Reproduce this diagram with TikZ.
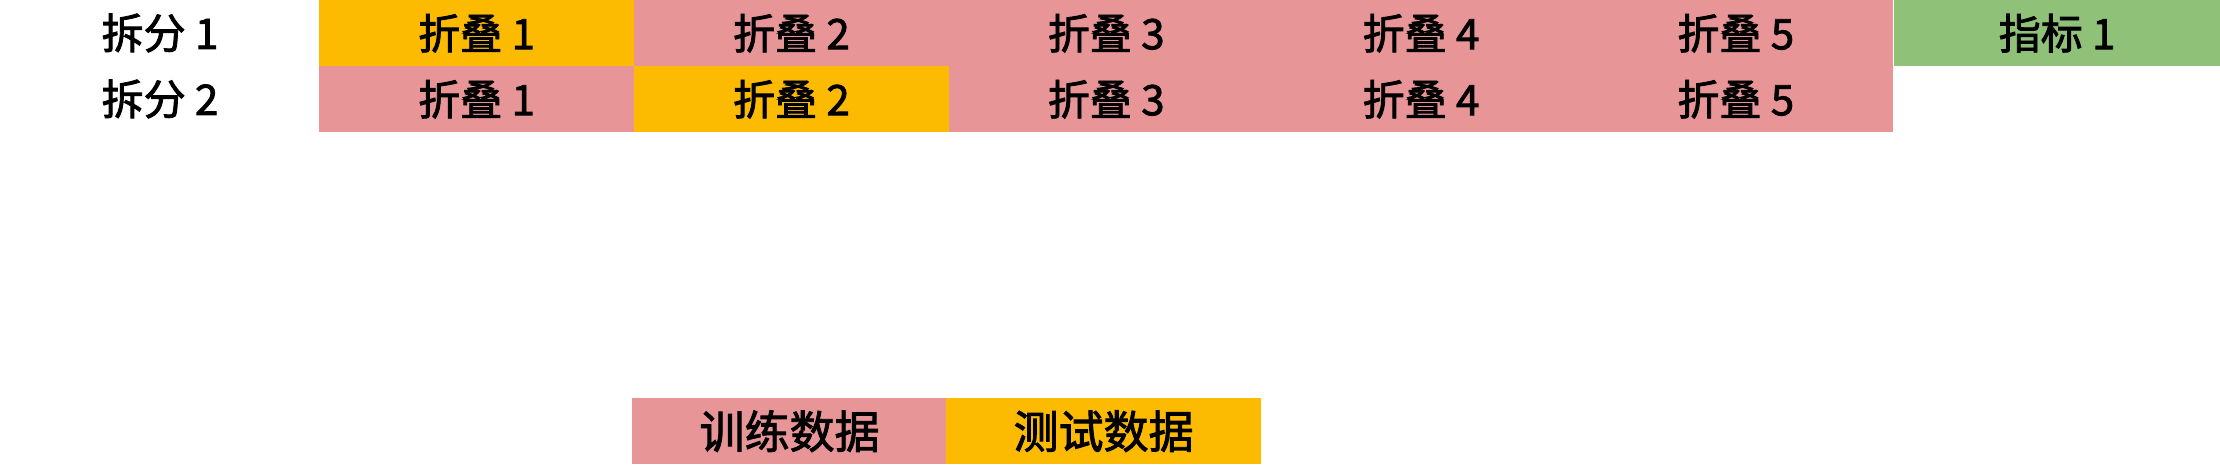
\documentclass[tikz,border=0pt]{standalone}
\usepackage{fontspec}
\setmainfont{Noto Sans CJK SC}
\newfontfamily\cellfont{Noto Sans CJK SC}[FakeBold=2]
\definecolor{trainpink}{RGB}{232,149,152}
\definecolor{testyellow}{RGB}{252,186,0}
\definecolor{metricgreen}{RGB}{144,193,120}

\begin{document}
\begin{tikzpicture}[x=1pt,y=-1pt,font=\cellfont\fontsize{42}{48}\selectfont,
	cell/.style={minimum width=314.8pt,minimum height=66pt,inner sep=0pt,anchor=north west}]
	\useasboundingbox (0,0) rectangle (2220,464);
	\foreach \r in {1,2} {
		\node (split\r) at (160,{(\r-1)*66+33}) {拆分 \r};
		\foreach \f in {1,...,5} {
			\ifnum\f=\r \def\c{testyellow}\else \def\c{trainpink}\fi
			\node[cell,fill=\c] (fold\r\f) at ({319+(\f-1)*314.8},{(\r-1)*66}) {折叠 \f};
		}
	}
	\node[cell,fill=metricgreen,minimum width=326.2pt] (metric1) at (1893.8,0) {指标 1};

	\node[cell,fill=trainpink,font=\cellfont\fontsize{45}{50}\selectfont] (train) at (632,398) {训练数据};
	\node[cell,fill=testyellow,font=\cellfont\fontsize{45}{50}\selectfont] (test) at (946,398) {测试数据};
\end{tikzpicture}
\end{document}
